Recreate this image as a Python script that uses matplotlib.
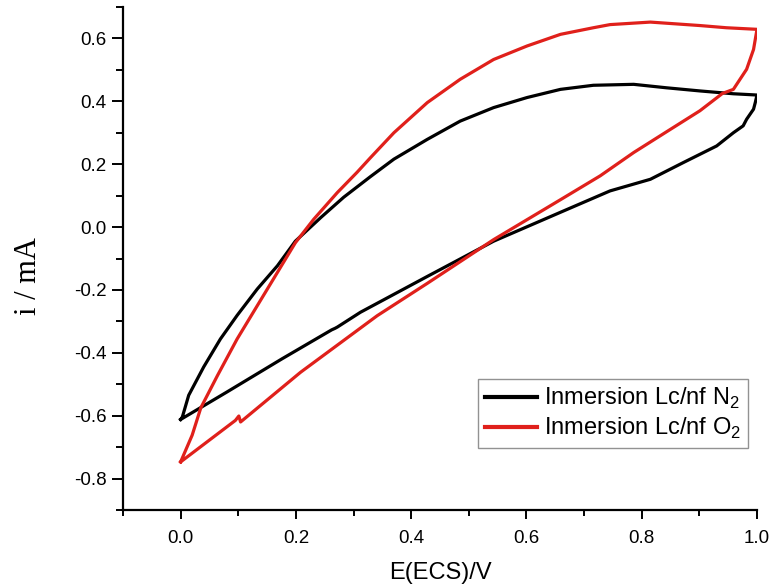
import matplotlib
matplotlib.use("Agg")
import matplotlib.pyplot as plt
from matplotlib.ticker import MultipleLocator

# N2 loop (black)
n2_E = [0.0, 0.003, 0.014, 0.040, 0.069, 0.098, 0.133, 0.168, 0.199, 0.243, 0.283,
        0.329, 0.370, 0.428, 0.485, 0.543, 0.601, 0.659, 0.716, 0.786, 0.843, 0.901,
        0.959, 1.0,
        0.997, 0.994, 0.982, 0.976, 0.959, 0.930, 0.872, 0.815, 0.745, 0.659, 0.543,
        0.428, 0.312, 0.272, 0.268, 0.262, 0.176, 0.080, 0.0]
n2_i = [-0.612, -0.604, -0.535, -0.445, -0.356, -0.281, -0.197, -0.123, -0.045, 0.030, 0.095,
        0.160, 0.216, 0.279, 0.337, 0.380, 0.412, 0.438, 0.451, 0.454, 0.443, 0.433,
        0.424, 0.420,
        0.396, 0.375, 0.343, 0.322, 0.300, 0.258, 0.205, 0.152, 0.115, 0.047, -0.045,
        -0.157, -0.271, -0.318, -0.322, -0.327, -0.419, -0.525, -0.612]

# O2 loop (red)
o2_E = [0.0, 0.020, 0.035, 0.064, 0.098, 0.133, 0.168, 0.199, 0.231, 0.272, 0.306,
        0.329, 0.370, 0.428, 0.485, 0.543, 0.601, 0.659, 0.716, 0.745, 0.815, 0.901,
        0.947, 1.0,
        0.994, 0.982, 0.959, 0.940, 0.901, 0.843, 0.786, 0.728, 0.659, 0.543, 0.428,
        0.341, 0.208, 0.104, 0.101, 0.095, 0.0]
o2_i = [-0.747, -0.662, -0.575, -0.472, -0.356, -0.250, -0.144, -0.050, 0.025, 0.110, 0.174,
        0.220, 0.300, 0.396, 0.470, 0.533, 0.576, 0.613, 0.634, 0.644, 0.652, 0.641,
        0.634, 0.629,
        0.565, 0.502, 0.438, 0.425, 0.370, 0.303, 0.237, 0.163, 0.087, -0.040, -0.179,
        -0.282, -0.462, -0.620, -0.601, -0.615, -0.747]

labels = [r"Inmersion Lc/nf N$_2$", r"Inmersion Lc/nf O$_2$"]
colors = ["#000000", "#e0201b"]
xticks = [0.0, 0.2, 0.4, 0.6, 0.8, 1.0]
yticks = [-0.8, -0.6, -0.4, -0.2, 0.0, 0.2, 0.4, 0.6]

plt.rcParams['font.family'] = ['Liberation Sans', 'DejaVu Sans']
plt.rcParams['mathtext.fontset'] = 'custom'
plt.rcParams['mathtext.rm'] = 'Liberation Sans'

fig = plt.figure(figsize=(7.72, 5.88), dpi=100)
ax = fig.add_axes([123/772, 1-510/588, (757-123)/772, (510-7)/588])

ax.plot(n2_E, n2_i, color=colors[0], lw=2.3, label=labels[0], solid_joinstyle='round')
ax.plot(o2_E, o2_i, color=colors[1], lw=2.3, label=labels[1], solid_joinstyle='round')

ax.set_xlim(-0.1, 1.0)
ax.set_ylim(-0.9, 0.7)
ax.xaxis.set_minor_locator(MultipleLocator(0.1))
ax.yaxis.set_minor_locator(MultipleLocator(0.1))
ax.set_xticks(xticks)
ax.set_xticklabels([f"{v:.1f}" for v in xticks])
ax.set_yticks(yticks)
ax.set_yticklabels([f"{v:.1f}" for v in yticks])

for s in ["top", "right"]:
    ax.spines[s].set_visible(False)
for s in ["left", "bottom"]:
    ax.spines[s].set_linewidth(1.6)

ax.tick_params(which='major', direction='out', width=1.4, labelsize=13.5)
ax.tick_params(axis='y', which='major', length=8, pad=4)
ax.tick_params(axis='x', which='major', length=6.5, pad=8)
ax.tick_params(axis='y', which='minor', direction='out', length=5, width=1.4)
ax.tick_params(axis='x', which='minor', direction='out', length=4, width=1.4)

ax.set_xlabel("E(ECS)/V", fontsize=17, va='center')
ax.xaxis.set_label_coords(0.5, (510 - 573.5) / 503)
ax.set_ylabel("i / mA", fontsize=22, family=['Liberation Serif'], va='center')
ax.yaxis.set_label_coords((28 - 123) / 634, (510 - 276) / 503)

leg = ax.legend(loc='lower right', bbox_to_anchor=(0.986, 0.123), borderaxespad=0,
                fontsize=17, handlelength=2.2, handletextpad=0.3, frameon=True,
                fancybox=False, edgecolor='#777777', borderpad=0.3, labelspacing=0.2)
leg.get_frame().set_linewidth(1.0)
for line in leg.get_lines():
    line.set_linewidth(3.0)

fig.savefig("out.png", dpi=100)
